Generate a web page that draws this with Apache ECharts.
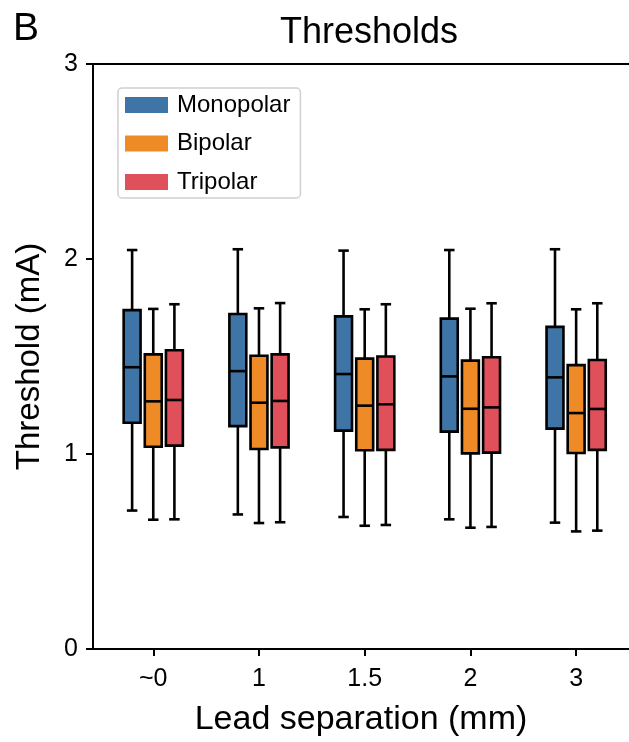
<!DOCTYPE html>
<html>
<head>
<meta charset="utf-8">
<title>Thresholds</title>
<script src="https://cdn.jsdelivr.net/npm/echarts@6/dist/echarts.min.js"></script>
<style>
  html, body { margin: 0; padding: 0; background: #fff; }
  #main { width: 629px; height: 742px; }
</style>
</head>
<body>
<div id="main"></div>
<script>
// categories on the x axis (lead separation, mm)
var separations = ['~0', '1', '1.5', '2', '3'];
var yTicks = [0, 1, 2, 3];

// boxplot stats per separation: [min, Q1, median, Q3, max] in mA
var monopolar = [
    [0.71, 1.16, 1.445, 1.738, 2.046],
    [0.69, 1.143, 1.425, 1.718, 2.05],
    [0.677, 1.12, 1.41, 1.706, 2.043],
    [0.665, 1.115, 1.398, 1.694, 2.046],
    [0.648, 1.13, 1.393, 1.652, 2.05]
];
var bipolar = [
    [0.663, 1.037, 1.27, 1.511, 1.744],
    [0.646, 1.026, 1.263, 1.504, 1.747],
    [0.632, 1.019, 1.248, 1.489, 1.742],
    [0.622, 1.003, 1.232, 1.479, 1.745],
    [0.603, 1.005, 1.21, 1.456, 1.742]
];
var tripolar = [
    [0.665, 1.043, 1.277, 1.532, 1.768],
    [0.65, 1.034, 1.272, 1.511, 1.774],
    [0.636, 1.021, 1.255, 1.5, 1.768],
    [0.626, 1.007, 1.239, 1.496, 1.773],
    [0.607, 1.021, 1.231, 1.482, 1.773]
];

var FONT = 'Liberation Sans, Arial, sans-serif';
var xIdx = separations.map(function (s, i) { return i; });

function withX(rows) {
    return rows.map(function (r, i) { return [i].concat(r); });
}

// draws one box with whiskers, shifted sideways by a fraction of one category step
function boxRenderer(shift, color) {
    return function (params, api) {
        var x = api.value(0);
        var unit = api.size([1, 0])[0];
        var cx = api.coord([x, 0])[0] + shift * unit;
        var w = unit * 0.16;
        var cap = w * 0.62;
        var yMin = api.coord([x, api.value(1)])[1];
        var yQ1 = api.coord([x, api.value(2)])[1];
        var yMed = api.coord([x, api.value(3)])[1];
        var yQ3 = api.coord([x, api.value(4)])[1];
        var yMax = api.coord([x, api.value(5)])[1];
        var ls = { stroke: '#000', lineWidth: 2.6 };
        return {
            type: 'group',
            children: [
                { type: 'line', shape: { x1: cx, y1: yMax, x2: cx, y2: yQ3 }, style: ls },
                { type: 'line', shape: { x1: cx, y1: yQ1, x2: cx, y2: yMin }, style: ls },
                { type: 'line', shape: { x1: cx - cap / 2, y1: yMax, x2: cx + cap / 2, y2: yMax }, style: ls },
                { type: 'line', shape: { x1: cx - cap / 2, y1: yMin, x2: cx + cap / 2, y2: yMin }, style: ls },
                { type: 'rect', shape: { x: cx - w / 2, y: yQ3, width: w, height: yQ1 - yQ3 },
                  style: { fill: color, stroke: '#000', lineWidth: 2.6 } },
                { type: 'line', shape: { x1: cx - w / 2, y1: yMed, x2: cx + w / 2, y2: yMed }, style: ls }
            ]
        };
    };
}

function makeSeries(name, rows, shift, color) {
    return {
        name: name,
        type: 'custom',
        renderItem: boxRenderer(shift, color),
        itemStyle: { color: color },
        encode: { x: 0, y: [1, 2, 3, 4, 5] },
        data: withX(rows)
    };
}

var myChart = echarts.init(document.getElementById('main'));
var option = {
    animation: false,
    backgroundColor: '#fff',
    title: {
        text: 'Thresholds',
        left: 364, top: 10,
        textAlign: 'center',
        textStyle: { fontFamily: FONT, fontSize: 36, fontWeight: 'normal', color: '#000' }
    },
    graphic: [{
        type: 'text', left: 13, top: 10,
        style: { text: 'B', fontFamily: FONT, fontSize: 39, fill: '#000' }
    }],
    legend: {
        orient: 'vertical',
        left: 118, top: 88,
        icon: 'rect',
        itemWidth: 43, itemHeight: 16,
        itemGap: 14.5,
        padding: [5, 10, 4, 7],
        borderColor: '#d0d0d0', borderWidth: 1.5, borderRadius: 4,
        textStyle: { fontFamily: FONT, fontSize: 24, color: '#000', padding: [0, 0, 0, 4] },
        itemStyle: { borderWidth: 0 },
        data: ['Monopolar', 'Bipolar', 'Tripolar']
    },
    grid: { left: 93, top: 64, bottom: 93, right: -8 },
    xAxis: [{
        type: 'value',
        min: -0.57, max: 4.5,
        name: 'Lead separation (mm)',
        nameLocation: 'middle',
        nameGap: 54,
        nameTextStyle: { fontFamily: FONT, fontSize: 34, color: '#000' },
        axisLine: { onZero: false, lineStyle: { color: '#000', width: 2 } },
        axisTick: { show: true, length: 7, lineStyle: { color: '#000', width: 2 }, customValues: xIdx },
        axisLabel: {
            customValues: xIdx,
            margin: 18,
            fontFamily: FONT, fontSize: 25, color: '#000',
            formatter: function (v) { return separations[Math.round(v)]; }
        },
        splitLine: { show: false }
    }, {
        type: 'value',
        position: 'top',
        min: -0.57, max: 4.5,
        axisLine: { onZero: false, lineStyle: { color: '#000', width: 2 } },
        axisTick: { show: false },
        axisLabel: { show: false },
        splitLine: { show: false }
    }],
    yAxis: {
        type: 'value',
        min: 0, max: 3, interval: 1,
        name: 'Threshold (mA)',
        nameLocation: 'middle',
        nameGap: 47,
        nameTextStyle: { fontFamily: FONT, fontSize: 33, color: '#000' },
        axisLine: { show: true, onZero: false, lineStyle: { color: '#000', width: 2 } },
        axisTick: { show: true, length: 7, lineStyle: { color: '#000', width: 2 } },
        axisLabel: {
            margin: 15,
            fontFamily: FONT, fontSize: 25, color: '#000',
            formatter: function (v) { return yTicks.indexOf(v) >= 0 ? String(v) : ''; }
        },
        splitLine: { show: false }
    },
    series: [
        makeSeries('Monopolar', monopolar, -0.2, '#3f74a6'),
        makeSeries('Bipolar', bipolar, 0, '#ef8b26'),
        makeSeries('Tripolar', tripolar, 0.2, '#e0505a')
    ]
};
myChart.setOption(option);
</script>
</body>
</html>
